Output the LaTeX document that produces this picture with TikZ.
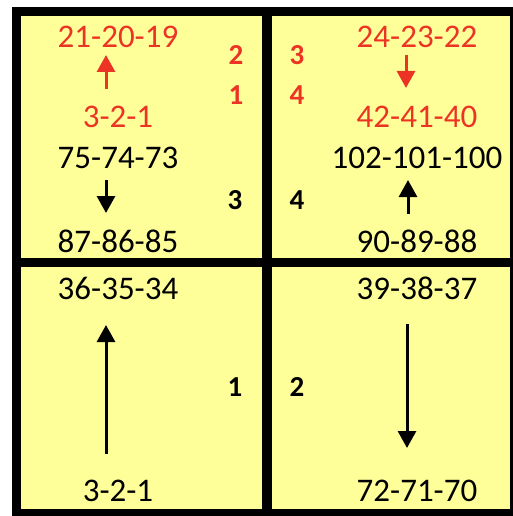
\documentclass[tikz,border=0pt]{standalone}
\usepackage{fontspec}
\setmainfont{Carlito}
\usetikzlibrary{arrows.meta}
\definecolor{cellyellow}{RGB}{255,255,153}
\definecolor{numred}{RGB}{236,52,36}

\begin{document}
\begin{tikzpicture}[x=1pt,y=-1pt,>={Triangle[width=18pt,length=17pt]}, line join=round,
	seq/.style={inner sep=0pt, font=\fontsize{33}{35}\selectfont},
	tag/.style={inner sep=0pt, font=\fontsize{29}{31}\selectfont\bfseries},
	grid/.style={line width=9pt},
	arr/.style={->, line width=3pt}]
	\useasboundingbox (0,0) rectangle (513,516);
	\fill[cellyellow] (16,11) rectangle (513,516);
	% grid
	\draw[grid] (16.5,7) -- (16.5,516) (12,11.5) -- (513,11.5);
	\draw[grid] (514.5,7) -- (514.5,516) (12,513.5) -- (513,513.5);
	\draw[grid, line width=10pt] (267,7) -- (267,516);
	\draw[grid] (12,262.5) -- (513,262.5);
	% top left cell
	\node[seq, numred] (tl1) at (118,37) {21-20-19};
	\node[seq, numred] (tl2) at (118,117) {3-2-1};
	\node[seq] (tl3) at (118,158) {75-74-73};
	\node[seq] (tl4) at (118,241) {87-86-85};
	\node[tag, numred] (t2) at (236,55) {2};
	\node[tag, numred] (t1) at (236,95) {1};
	\node[tag] (t3) at (235,200) {3};
	\coordinate (a1s) at (106,89);  \coordinate (a1e) at (106,55);
	\coordinate (a2s) at (106,180); \coordinate (a2e) at (106,213);
	\draw[arr, numred] (a1s) -- (a1e);
	\draw[arr] (a2s) -- (a2e);
	% top right cell
	\node[seq, numred] (tr1) at (417,37) {24-23-22};
	\node[seq, numred] (tr2) at (417,117) {42-41-40};
	\node[seq] (tr3) at (417,158) {102-101-100};
	\node[seq] (tr4) at (417,241) {90-89-88};
	\node[tag, numred] (u3) at (297,55) {3};
	\node[tag, numred] (u4) at (297,95) {4};
	\node[tag] (u5) at (297,200) {4};
	\coordinate (b1s) at (406,55);  \coordinate (b1e) at (406,88);
	\coordinate (b2s) at (408,214); \coordinate (b2e) at (408,180);
	\draw[arr, numred] (b1s) -- (b1e);
	\draw[arr] (b2s) -- (b2e);
	% bottom left cell
	\node[seq] (bl1) at (118,288) {36-35-34};
	\node[seq] (bl2) at (118,491) {3-2-1};
	\node[tag] (v1) at (235,387) {1};
	\coordinate (c1s) at (106,454); \coordinate (c1e) at (106,325);
	\draw[arr] (c1s) -- (c1e);
	% bottom right cell
	\node[seq] (br1) at (417,288) {39-38-37};
	\node[seq] (br2) at (417,491) {72-71-70};
	\node[tag] (v2) at (297,387) {2};
	\coordinate (d1s) at (407,324); \coordinate (d1e) at (407,448);
	\draw[arr] (d1s) -- (d1e);
\end{tikzpicture}
\end{document}
